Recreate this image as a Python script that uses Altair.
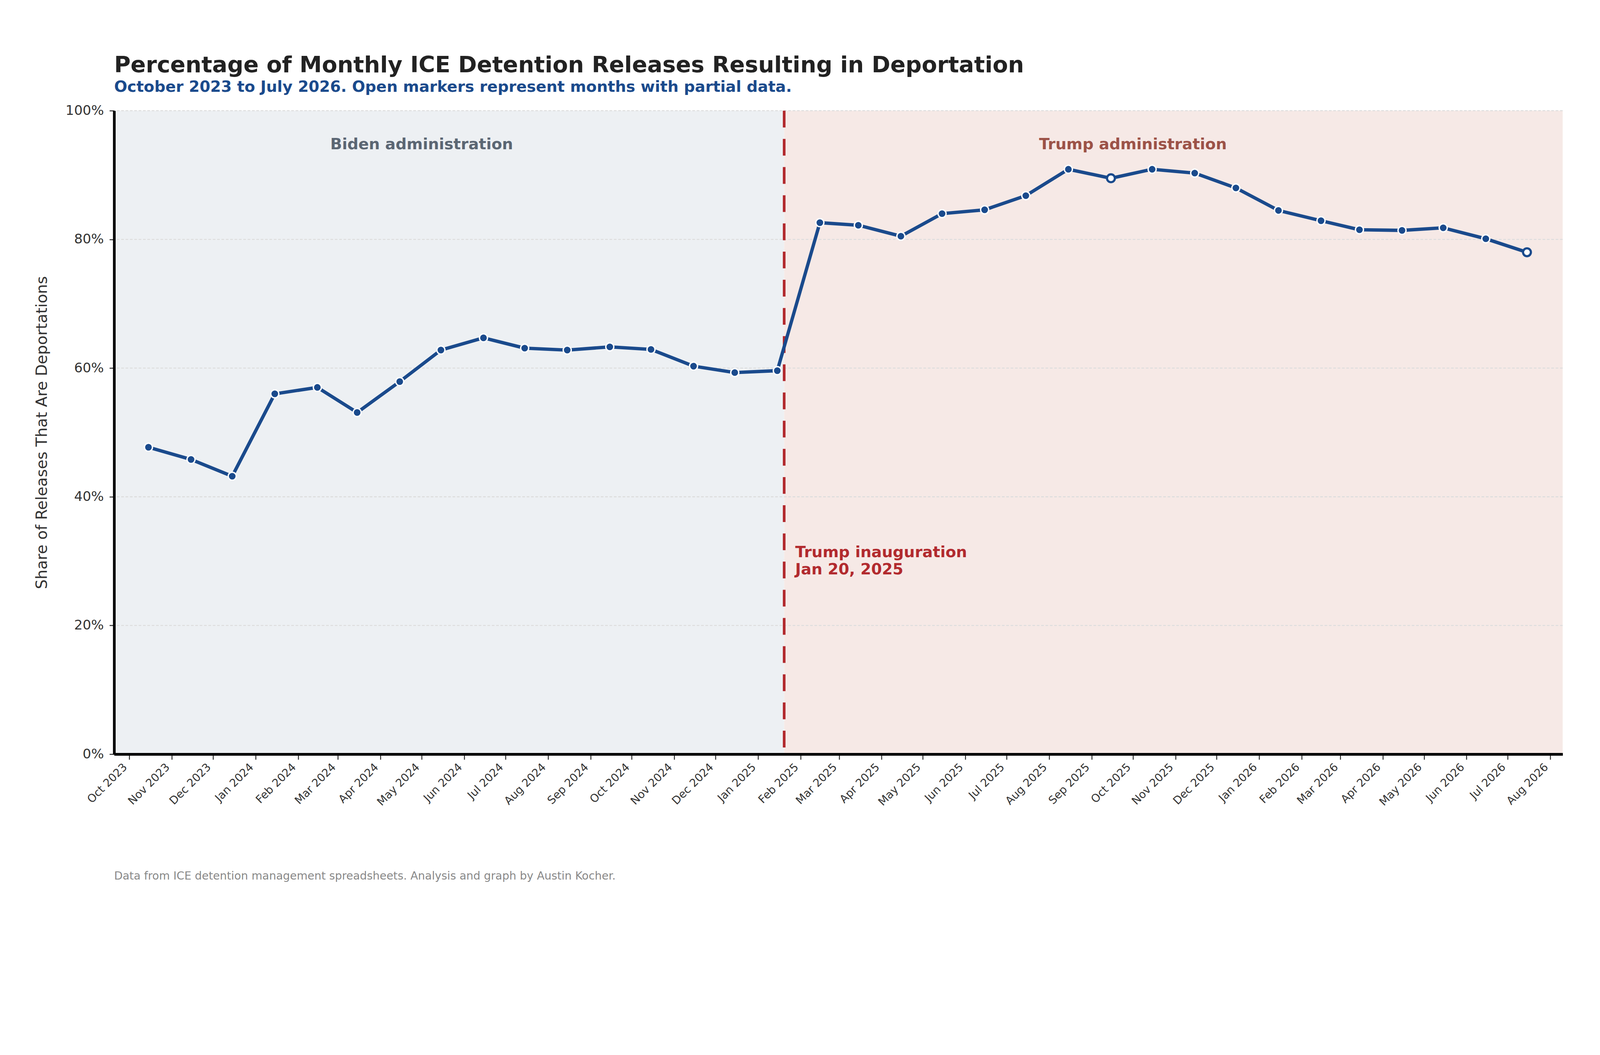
import altair as alt
import pandas as pd

# ---------------- data ----------------
month_dates = [
    "2023-10-15", "2023-11-15", "2023-12-15",
    "2024-01-15", "2024-02-15", "2024-03-15", "2024-04-15", "2024-05-15", "2024-06-15",
    "2024-07-15", "2024-08-15", "2024-09-15", "2024-10-15", "2024-11-15", "2024-12-15",
    "2025-01-15", "2025-02-15", "2025-03-15", "2025-04-15", "2025-05-15", "2025-06-15",
    "2025-07-15", "2025-08-15", "2025-09-15", "2025-10-15", "2025-11-15", "2025-12-15",
    "2026-01-15", "2026-02-15", "2026-03-15", "2026-04-15", "2026-05-15", "2026-06-15",
    "2026-07-15",
]
share_pct = [
    47.7, 45.8, 43.2,
    56.0, 57.0, 53.1, 57.9, 62.8, 64.7, 63.1, 62.8, 63.3, 62.9, 60.3, 59.3,
    59.6, 82.6, 82.2, 80.5, 84.0, 84.6, 86.8, 90.9, 89.5, 90.9, 90.3, 88.0,
    84.5, 82.9, 81.5, 81.4, 81.8, 80.1, 78.0,
]
partial_months = ["2025-09-15", "2026-07-15"]

tick_dates = [
    "2023-10-01", "2023-11-01", "2023-12-01",
    "2024-01-01", "2024-02-01", "2024-03-01", "2024-04-01", "2024-05-01", "2024-06-01",
    "2024-07-01", "2024-08-01", "2024-09-01", "2024-10-01", "2024-11-01", "2024-12-01",
    "2025-01-01", "2025-02-01", "2025-03-01", "2025-04-01", "2025-05-01", "2025-06-01",
    "2025-07-01", "2025-08-01", "2025-09-01", "2025-10-01", "2025-11-01", "2025-12-01",
    "2026-01-01", "2026-02-01", "2026-03-01", "2026-04-01", "2026-05-01", "2026-06-01",
    "2026-07-01", "2026-08-01",
]
y_ticks = [0, 20, 40, 60, 80, 100]

x_domain = ["2023-09-20", "2026-08-10"]

period_names = ["Biden administration", "Trump administration"]
period_start = ["2023-09-20", "2025-01-20"]
period_end = ["2025-01-20", "2026-08-10"]
period_fill = ["#edf0f3", "#f6e9e6"]
period_label_date = ["2024-05-01", "2025-10-01"]
period_label_color = ["#5b6673", "#9c5247"]

inauguration_date = ["2025-01-20"]
inauguration_text = ["Trump inauguration\nJan 20, 2025"]

title_text = "Percentage of Monthly ICE Detention Releases Resulting in Deportation"
subtitle_text = "October 2023 to July 2026. Open markers represent months with partial data."
y_title = "Share of Releases That Are Deportations"
footer_text = "Data from ICE detention management spreadsheets. Analysis and graph by Austin Kocher."

BLUE = "#1a4a8c"
RED = "#b22a2e"
FONT = "DejaVu Sans"

# ---------------- tables ----------------
def dt(s):
    y, m, d = (int(v) for v in s.split("-"))
    return alt.DateTime(year=y, month=m, date=d, utc=True)

series = pd.DataFrame({
    "date": month_dates,
    "share": share_pct,
    "partial": [d in partial_months for d in month_dates],
})
periods = pd.DataFrame({
    "name": period_names, "start": period_start, "end": period_end,
    "fill": period_fill, "label_date": period_label_date, "label_color": period_label_color,
})
grid = pd.DataFrame({"g": y_ticks})
inaug = pd.DataFrame({"date": inauguration_date, "text": inauguration_text})
one = pd.DataFrame({"k": [0]})

xscale = alt.Scale(type="utc", domain=[dt(x_domain[0]), dt(x_domain[1])])
yscale = alt.Scale(domain=[0, 100])

W, H = 4319, 1918

x_axis = alt.Axis(
    values=[dt(t) for t in tick_dates], labelExpr="utcFormat(datum.value, '%b %Y')",
    labelAngle=-45, labelAlign="right", labelBaseline="bottom", labelFontSize=33,
    labelColor="#333333", labelPadding=29, labelOverlap=False, labelFlush=False,
    labelLimit=1000,
    tickSize=16, tickWidth=3, tickColor="#333333",
    domainColor="#000000", domainWidth=8, grid=False, zindex=1, title=None,
)
y_axis = alt.Axis(
    values=y_ticks, labelExpr="datum.value + '%'", labelFontSize=40,
    labelColor="#333333", labelPadding=17, tickSize=14, tickWidth=3, tickColor="#333333",
    domainColor="#000000", domainWidth=8, grid=False, zindex=1,
    title=y_title, titleFontSize=46, titleFontWeight="normal", titleColor="#333333",
    titlePadding=46, titleFont=FONT,
)

def X(field):
    return alt.X(field, scale=xscale, axis=x_axis)

def Y(field):
    return alt.Y(field, scale=yscale, axis=y_axis)

shade = alt.Chart(periods).mark_rect().encode(
    x=X("start:T"), x2="end:T",
    color=alt.Color("fill:N", scale=None),
)

gridlines = alt.Chart(grid).mark_rule(color="#dddddd", strokeWidth=3, strokeDash=[8, 5]).encode(
    y=Y("g:Q"),
)

inaug_rule = alt.Chart(inaug).mark_rule(color=RED, strokeWidth=8, strokeDash=[50, 34]).encode(
    x=X("date:T"),
)

inaug_label = alt.Chart(inaug).mark_text(
    align="left", baseline="alphabetic", dx=33, fontSize=46, fontWeight="bold",
    color=RED, lineBreak="\n", lineHeight=51, font=FONT,
).encode(
    x=X("date:T"),
    y=alt.YDatum(30.6, scale=yscale, axis=y_axis),
    text="text:N",
)

period_labels = alt.Chart(periods).mark_text(
    align="center", baseline="alphabetic", fontSize=46, fontWeight="bold", font=FONT,
).encode(
    x=X("label_date:T"),
    y=alt.YDatum(94.0, scale=yscale, axis=y_axis),
    text="name:N",
    color=alt.Color("label_color:N", scale=None),
)

line = alt.Chart(series).mark_line(color=BLUE, strokeWidth=10, strokeJoin="round").encode(
    x=X("date:T"), y=Y("share:Q"),
)

points = alt.Chart(series).mark_point(shape="circle", opacity=1).encode(
    x=X("date:T"), y=Y("share:Q"),
    fill=alt.condition("datum.partial", alt.value("#ffffff"), alt.value(BLUE)),
    stroke=alt.condition("datum.partial", alt.value(BLUE), alt.value("#ffffff")),
    strokeWidth=alt.condition("datum.partial", alt.value(6.5), alt.value(4)),
    size=alt.condition("datum.partial", alt.value(552), alt.value(573)),
)

def free_text(txt, ypix, size, color, weight="normal"):
    return alt.Chart(one).mark_text(
        align="left", baseline="alphabetic", fontSize=size, color=color,
        fontWeight=weight, font=FONT,
    ).encode(x=alt.value(0), y=alt.value(ypix), text=alt.value(txt))

title_mark = free_text(title_text, -115, 67, "#222222", "bold")
subtitle_mark = free_text(subtitle_text, -56, 46, BLUE, "bold")
foot = free_text(footer_text, 2292, 33, "#888888")

chart = alt.layer(
    shade, gridlines, inaug_rule, period_labels, inaug_label, line, points,
    title_mark, subtitle_mark, foot
).properties(
    width=W, height=H,
    padding={"left": 92, "top": -37, "right": 100, "bottom": -140},
    background="#ffffff",
).configure(font=FONT).configure_view(stroke=None)

chart.save("out.html", embed_options={"renderer": "svg", "actions": False})
